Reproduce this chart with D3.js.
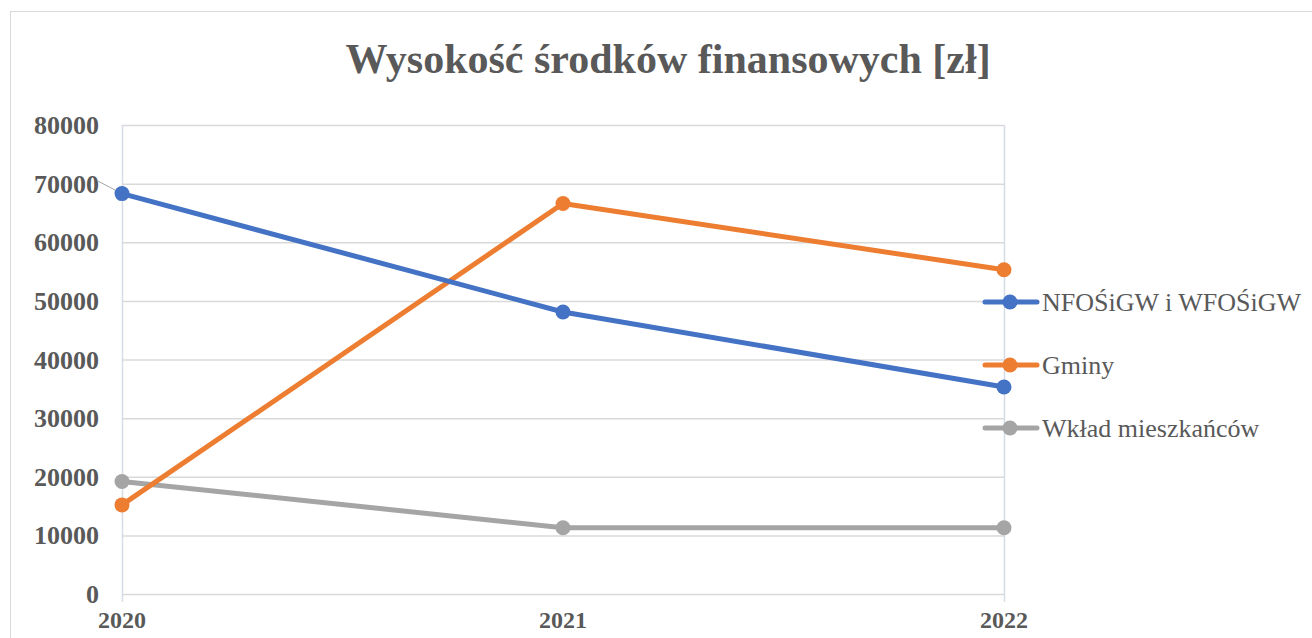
<!DOCTYPE html>
<html>
<head>
  <meta charset="utf-8">
  <title>Wysokość środków</title>
  <script src="https://d3js.org/d3.v7.min.js"></script>
  <style>
    body { margin: 0; background: #fff; }
  </style>
</head>
<body>
  <svg width="1312" height="638" id="mainsvg"></svg>
  <script>
    const years = ['2020', '2021', '2022'];
    const seriesNames = ['NFOŚiGW i WFOŚiGW', 'Gminy', 'Wkład mieszkańców'];
    const nfosigw = [68300, 48100, 35300];
    const gminy = [15200, 66600, 55300];
    const wklad = [19200, 11300, 11300];
    const yTicks = [0, 10000, 20000, 30000, 40000, 50000, 60000, 70000, 80000];
    const colors = ['#4472c4', '#ed7d31', '#a5a5a5'];

    const FONT = '"Liberation Serif", "Times New Roman", serif';
    const svg = d3.select('#mainsvg');
    const margin = { top: 125, left: 122 };
    const innerWidth = 1004 - 122;
    const innerHeight = 594 - 125;

    // outer chart frame
    svg.append('rect')
      .attr('x', 10.5).attr('y', 11.5)
      .attr('width', 1320).attr('height', 640)
      .attr('fill', 'none').attr('stroke', '#d9d9d9');

    svg.append('text')
      .attr('x', 668).attr('y', 73)
      .attr('text-anchor', 'middle')
      .attr('font-family', FONT).attr('fill', '#595959')
      .attr('font-size', 42).attr('font-weight', 'bold')
      .text('Wysokość środków finansowych [zł]');

    const g = svg.append('g').attr('transform', `translate(${margin.left}, ${margin.top})`);

    const x = d3.scalePoint().domain(years).range([0, innerWidth]);
    const y = d3.scaleLinear().domain([0, 80000]).range([innerHeight, 0]);

    // gridlines
    g.selectAll('.grid').data(yTicks).join('line')
      .attr('x1', 0).attr('x2', innerWidth)
      .attr('y1', d => y(d) + 0.5).attr('y2', d => y(d) + 0.5)
      .attr('stroke', '#d9d9d9').attr('stroke-width', 1.5);

    // plot area side lines
    [0, innerWidth].forEach(px => {
      g.append('line')
        .attr('x1', px + 0.5).attr('x2', px + 0.5)
        .attr('y1', 0).attr('y2', innerHeight + 8)
        .attr('stroke', '#d6dce5').attr('stroke-width', 1.5);
    });

    // y tick labels
    g.selectAll('.ylab').data(yTicks).join('text')
      .attr('x', -23).attr('y', d => y(d) + 9)
      .attr('text-anchor', 'end')
      .attr('font-family', FONT).attr('fill', '#595959')
      .attr('font-size', 26).attr('font-weight', 'bold')
      .text(d => d);

    // x tick labels
    g.selectAll('.xlab').data(years).join('text')
      .attr('x', d => x(d)).attr('y', innerHeight + 34)
      .attr('text-anchor', 'middle')
      .attr('font-family', FONT).attr('fill', '#595959')
      .attr('font-size', 24).attr('font-weight', 'bold')
      .text(d => d);

    // leader line from 70000 label to first point
    g.append('line')
      .attr('x1', -25).attr('y1', y(70000) - 3)
      .attr('x2', x(years[0])).attr('y2', y(nfosigw[0]))
      .attr('stroke', '#a6a6a6').attr('stroke-width', 1);

    const allSeries = [nfosigw, gminy, wklad];
    const line = d3.line().x((d, i) => x(years[i])).y(d => y(d));

    // draw grey first, then orange, then blue on top
    [2, 1, 0].forEach(k => {
      g.append('path')
        .attr('d', line(allSeries[k]))
        .attr('fill', 'none')
        .attr('stroke', colors[k])
        .attr('stroke-width', 5)
        .attr('stroke-linejoin', 'round');
      g.selectAll('.pt' + k).data(allSeries[k]).join('circle')
        .attr('cx', (d, i) => x(years[i]))
        .attr('cy', d => y(d))
        .attr('r', 7.5)
        .attr('fill', colors[k]);
    });

    // legend
    const legend = svg.append('g').attr('transform', 'translate(983, 302)');
    seriesNames.forEach((name, i) => {
      const row = legend.append('g').attr('transform', `translate(0, ${i * 63})`);
      row.append('line')
        .attr('x1', 2).attr('x2', 54).attr('y1', 0).attr('y2', 0)
        .attr('stroke', colors[i]).attr('stroke-width', 5).attr('stroke-linecap', 'round');
      row.append('circle').attr('cx', 27).attr('cy', 0).attr('r', 7.5).attr('fill', colors[i]);
      row.append('text')
        .attr('x', 59).attr('y', 9)
        .attr('font-family', FONT).attr('fill', '#595959')
        .attr('font-size', 26)
        .text(name);
    });
  </script>
</body>
</html>
